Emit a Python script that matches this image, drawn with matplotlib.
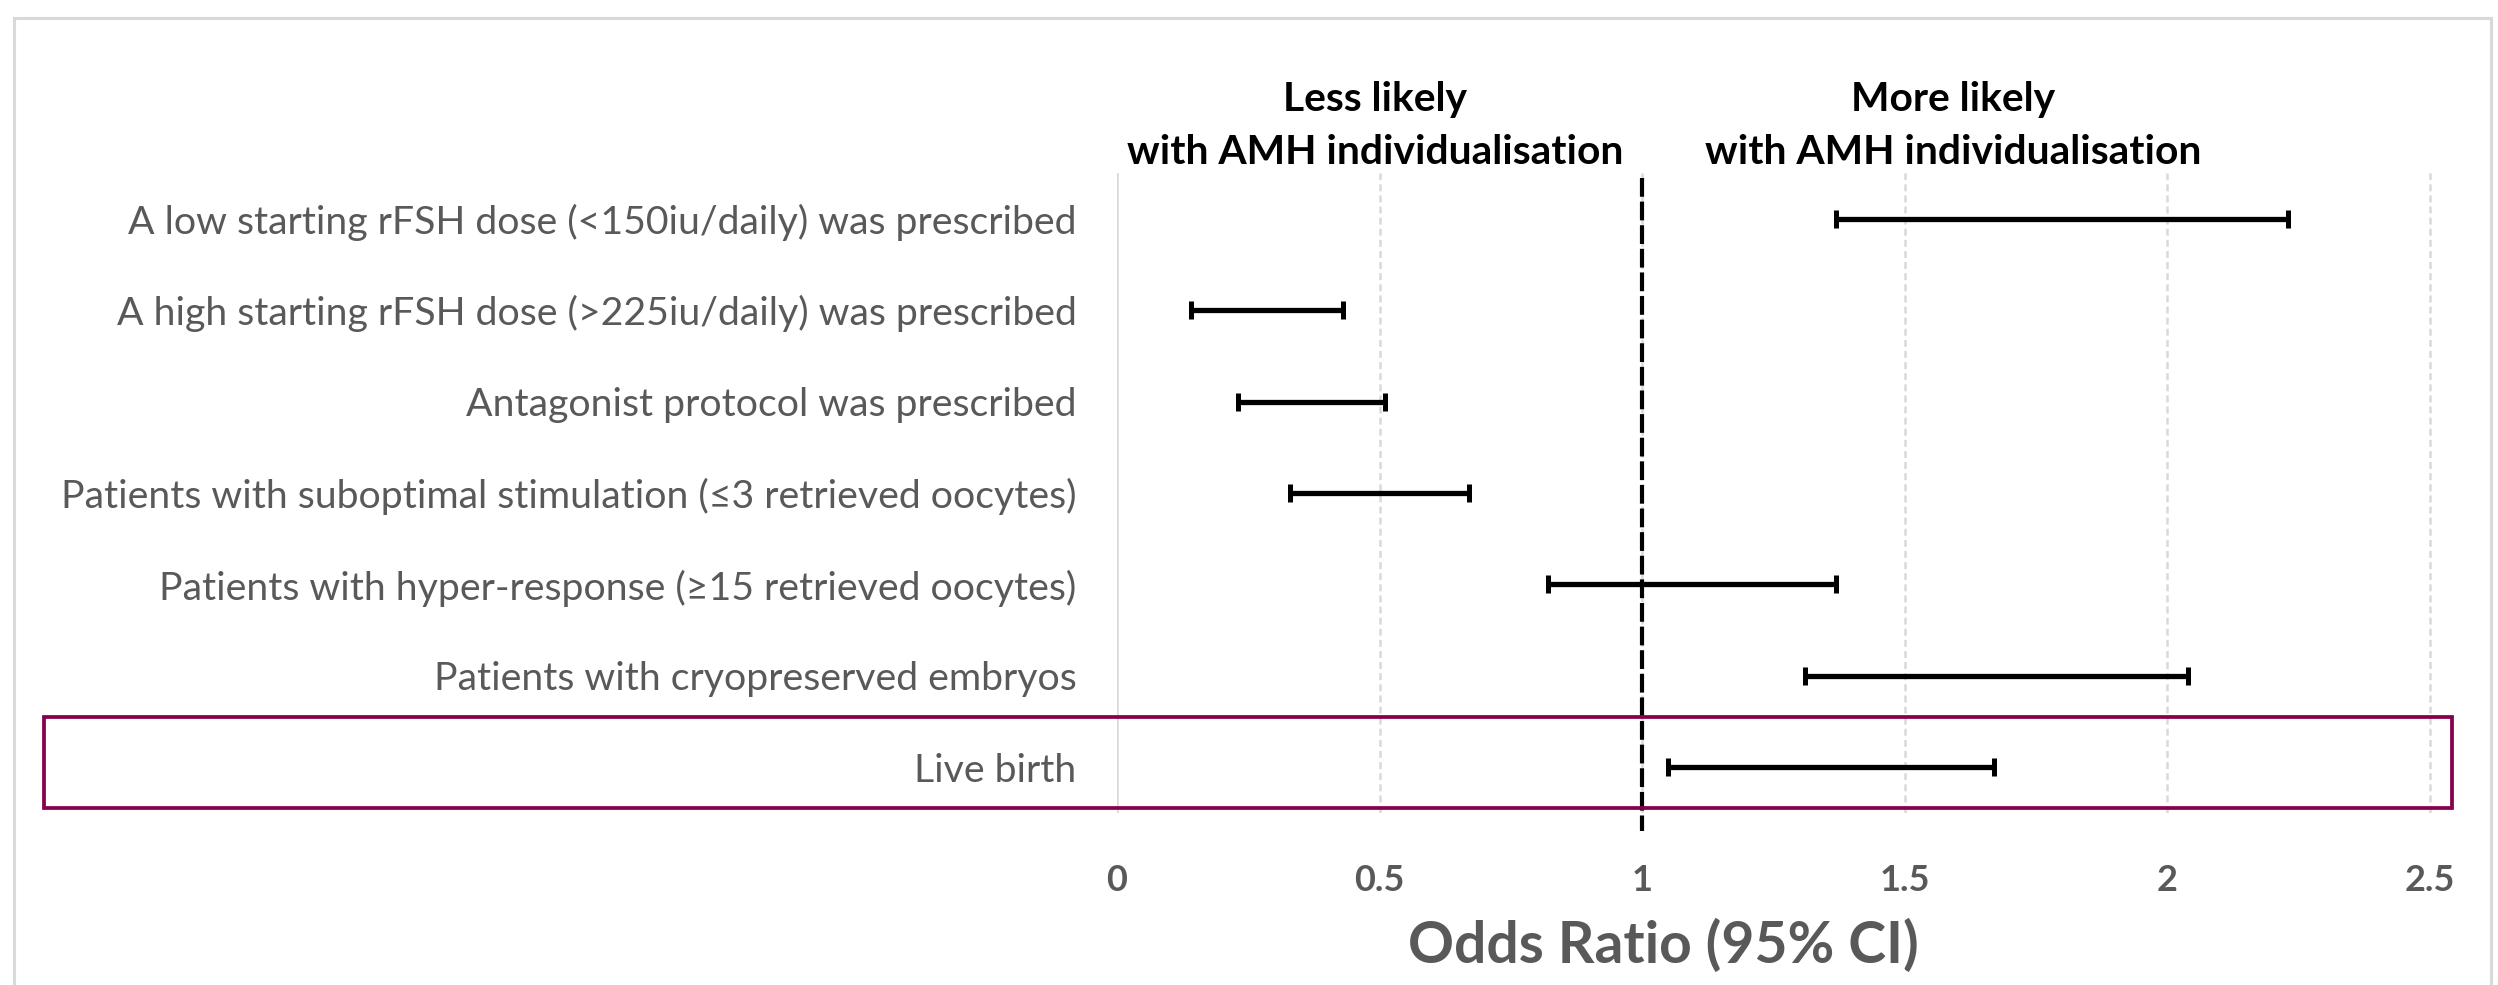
import matplotlib
matplotlib.use("Agg")
import matplotlib.pyplot as plt
from matplotlib.patches import Rectangle
import matplotlib.transforms as mtransforms

plt.rcParams['font.family'] = ['Lato', 'DejaVu Sans']
plt.rcParams['lines.scale_dashes'] = False

labels = [
    "A low starting rFSH dose (<150iu/daily) was prescribed",
    "A high starting rFSH dose (>225iu/daily) was prescribed",
    "Antagonist protocol was prescribed",
    "Patients with suboptimal stimulation (≤3 retrieved oocytes)",
    "Patients with hyper-response (≥15 retrieved oocytes)",
    "Patients with cryopreserved embryos",
    "Live birth",
]
ci_lower = [1.37, 0.14, 0.23, 0.33, 0.82, 1.31, 1.05]
ci_upper = [2.23, 0.43, 0.51, 0.67, 1.37, 2.04, 1.67]
xticks = [0, 0.5, 1, 1.5, 2, 2.5]
xtick_labels = ["0", "0.5", "1", "1.5", "2", "2.5"]
header_left = ["Less likely", "with AMH individualisation"]
header_right = ["More likely", "with AMH individualisation"]
xlabel = "Odds Ratio (95% CI)"
highlight_row = 6

W, H = 2498, 985
fig = plt.figure(figsize=(W / 100, H / 100), dpi=100)
ax = fig.add_axes([1117 / W, 1 - 813 / H, 1339 / W, 640 / H])
renderer = fig.canvas.get_renderer()


def fit(t, target_px):
    w = t.get_window_extent(renderer).width
    t.set_fontsize(t.get_fontsize() * target_px / w)


gray_text = '#595959'
grid_c = '#d9d9d9'

y = list(range(len(labels)))
centers = [(lo + hi) / 2 for lo, hi in zip(ci_lower, ci_upper)]
halfs = [(hi - lo) / 2 for lo, hi in zip(ci_lower, ci_upper)]

ax.set_xlim(0, 2.55)
ax.set_ylim(len(labels) - 0.5, -0.5)

for t in xticks:
    if t == 0:
        ax.axvline(t, color=grid_c, lw=1.8, zorder=0)
    else:
        ax.axvline(t, color=grid_c, lw=1.8, dashes=(5, 3), zorder=0)

ax.errorbar(centers, y, xerr=halfs, fmt='none', ecolor='black',
            elinewidth=3.8, capsize=6.5, capthick=3.6, zorder=3)

ax.plot([1, 1], [-0.45, 6.7], color='black', lw=3.0, dashes=(13.5, 3.5),
        clip_on=False, zorder=4)

ax.set_yticks(y)
ax.set_yticklabels(labels, fontsize=30, color=gray_text)
ax.set_xticks(xticks)
ax.set_xticklabels(xtick_labels, fontsize=26, color=gray_text, fontweight='bold')
ax.tick_params(axis='y', length=0, pad=29)
ax.tick_params(axis='x', length=0, pad=37)
for s in ax.spines.values():
    s.set_visible(False)

ytl = ax.get_yticklabels()
w0 = ytl[0].get_window_extent(renderer).width
fs = 30 * 950 / w0
for t in ytl:
    t.set_fontsize(fs)

trans = mtransforms.blended_transform_factory(fig.transFigure, ax.transData)
rect = Rectangle((44 / W, highlight_row - 0.55), (2452 - 44) / W, 0.99,
                 transform=trans, fill=False, edgecolor='#86004E', lw=2.7,
                 clip_on=False, zorder=5)
fig.add_artist(rect)

for cx, lines in ((1375, header_left), (1953, header_right)):
    for i, line in enumerate(lines):
        t = fig.text(cx / W, 1 - (99 + 54 * i) / H, line, ha='center', va='center',
                     fontsize=27, fontweight='bold', color='black')
        if i == 1:
            fit(t, 494)
            hfs = t.get_fontsize()
    fig.texts[-2].set_fontsize(hfs)

xl = fig.text(1663 / W, 1 - 946 / H, xlabel, ha='center', va='center',
              fontsize=44, fontweight='bold', color=gray_text)
fit(xl, 510)

frame = Rectangle((14 / W, -0.05), (2491 - 14) / W, 1 - 18 / H + 0.05,
                  transform=fig.transFigure, fill=False, edgecolor=grid_c,
                  lw=2.2, clip_on=False)
fig.add_artist(frame)

fig.savefig("out.png", dpi=100, facecolor='white')
